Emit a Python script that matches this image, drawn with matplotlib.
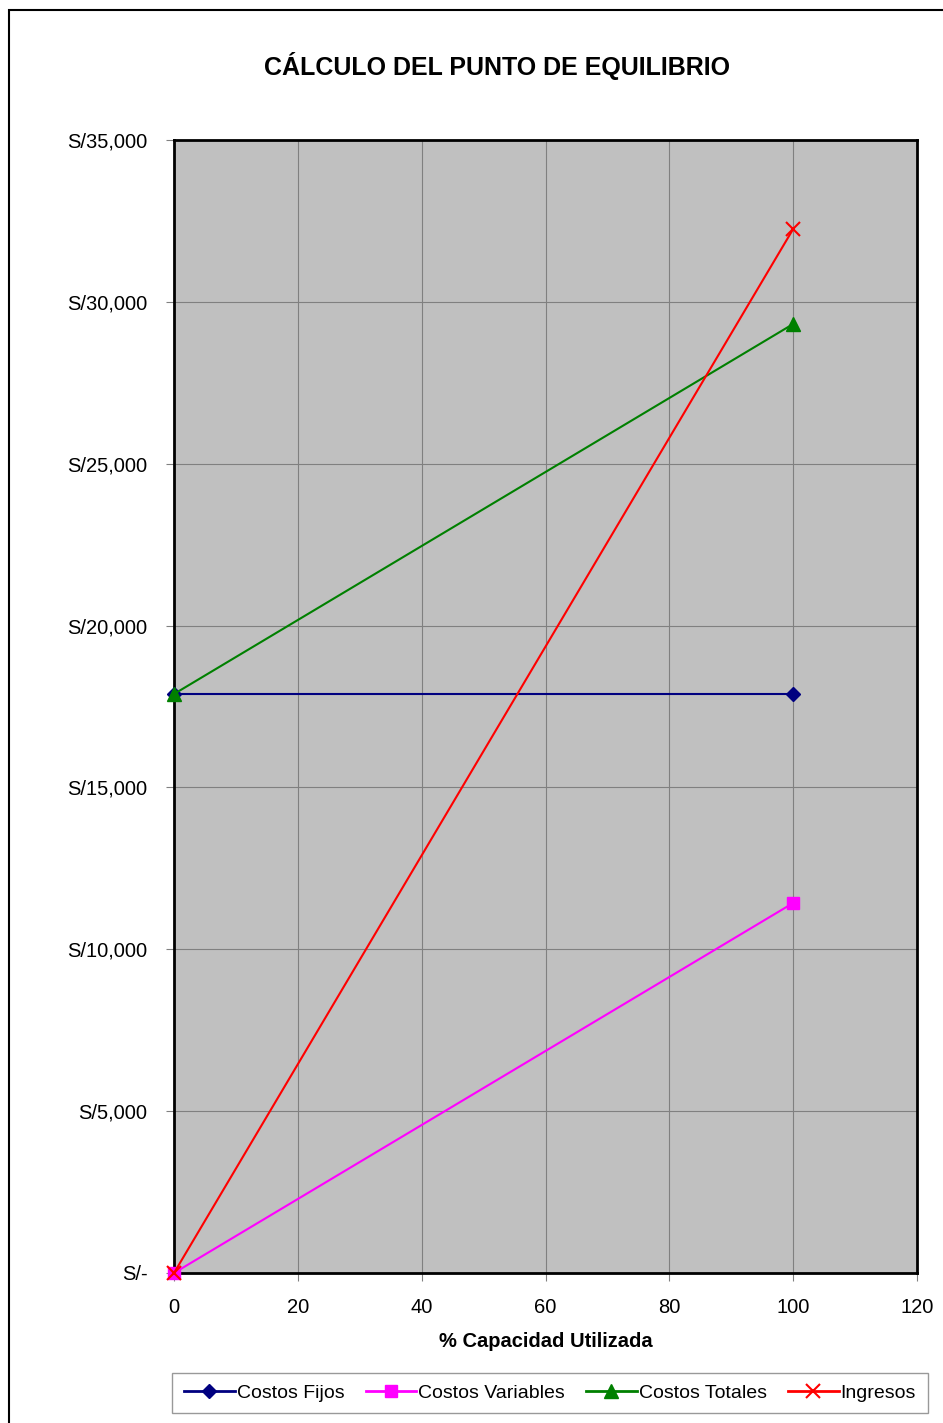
import matplotlib.pyplot as plt
from matplotlib.patches import Rectangle
from matplotlib.ticker import FuncFormatter

## Datos ##
capacidad = [0, 100]
costos_fijos = [17886, 17886]
costos_variables = [0, 11430]
costos_totales = [17886, 29316]
ingresos = [0, 32250]

W, H = 943, 1423
fig = plt.figure(figsize=(W / 100, H / 100), dpi=100, facecolor='white')
plt.rcParams['font.family'] = ['Liberation Sans', 'DejaVu Sans']

# marco exterior (cortado a la derecha y abajo)
top = 1 - 10 / H
fig.patches.append(Rectangle((9 / W, -0.1), 2, top + 0.1, transform=fig.transFigure,
                             fill=False, edgecolor='black', linewidth=1.5))

ax = fig.add_axes([174 / W, 1 - 1273 / H, (917 - 174) / W, (1273 - 140) / H])
ax.set_facecolor('#c0c0c0')

ax.plot(capacidad, costos_fijos, color='#000080', marker='D', markersize=7,
        linewidth=1.5, label='Costos Fijos', clip_on=False, zorder=3)
ax.plot(capacidad, costos_variables, color='#ff00ff', marker='s', markersize=9,
        linewidth=1.5, label='Costos Variables', clip_on=False, zorder=3)
ax.plot(capacidad, costos_totales, color='#008000', marker='^', markersize=10,
        linewidth=1.5, label='Costos Totales', clip_on=False, zorder=4)
ax.plot(capacidad, ingresos, color='#ff0000', marker='x', markersize=10,
        markeredgewidth=1.5, linewidth=1.5, label='Ingresos', clip_on=False, zorder=5)

ax.set_xlim(0, 120)
ax.set_ylim(0, 35000)
ax.set_xticks(range(0, 121, 20))
ax.set_yticks(range(0, 35001, 5000))
ax.yaxis.set_major_formatter(FuncFormatter(lambda v, p: 'S/-' if v == 0 else 'S/{:,.0f}'.format(v)))
ax.grid(True, color='#808080', linewidth=0.8)
ax.set_axisbelow(True)
for s in ax.spines.values():
    s.set_linewidth(2)
    s.set_color('black')
ax.tick_params(axis='both', colors='black', labelsize=14.5, length=6, width=0.8,
               direction='out')
ax.tick_params(axis='x', pad=12, colors='#808080', labelcolor='black')
ax.tick_params(axis='y', pad=13, colors='#808080', labelcolor='black')

ax.set_xlabel('% Capacidad Utilizada', fontsize=14.5, fontweight='bold', labelpad=11)
fig.text(497 / W, 1 - 66 / H, 'CÁLCULO DEL PUNTO DE EQUILIBRIO', ha='center',
         va='center', fontsize=18, fontweight='bold')

leg = fig.legend(loc='center', bbox_to_anchor=(550 / W, 1 - 1393 / H), ncol=4,
                 frameon=True, fancybox=False, fontsize=14, handlelength=2.6,
                 handletextpad=0.1, columnspacing=1.1, borderpad=0.6,
                 borderaxespad=0)
leg.get_frame().set_edgecolor('#808080')
leg.get_frame().set_linewidth(1)
for ln in leg.get_lines():
    ln.set_linewidth(2)

fig.savefig('out.png', dpi=100)
